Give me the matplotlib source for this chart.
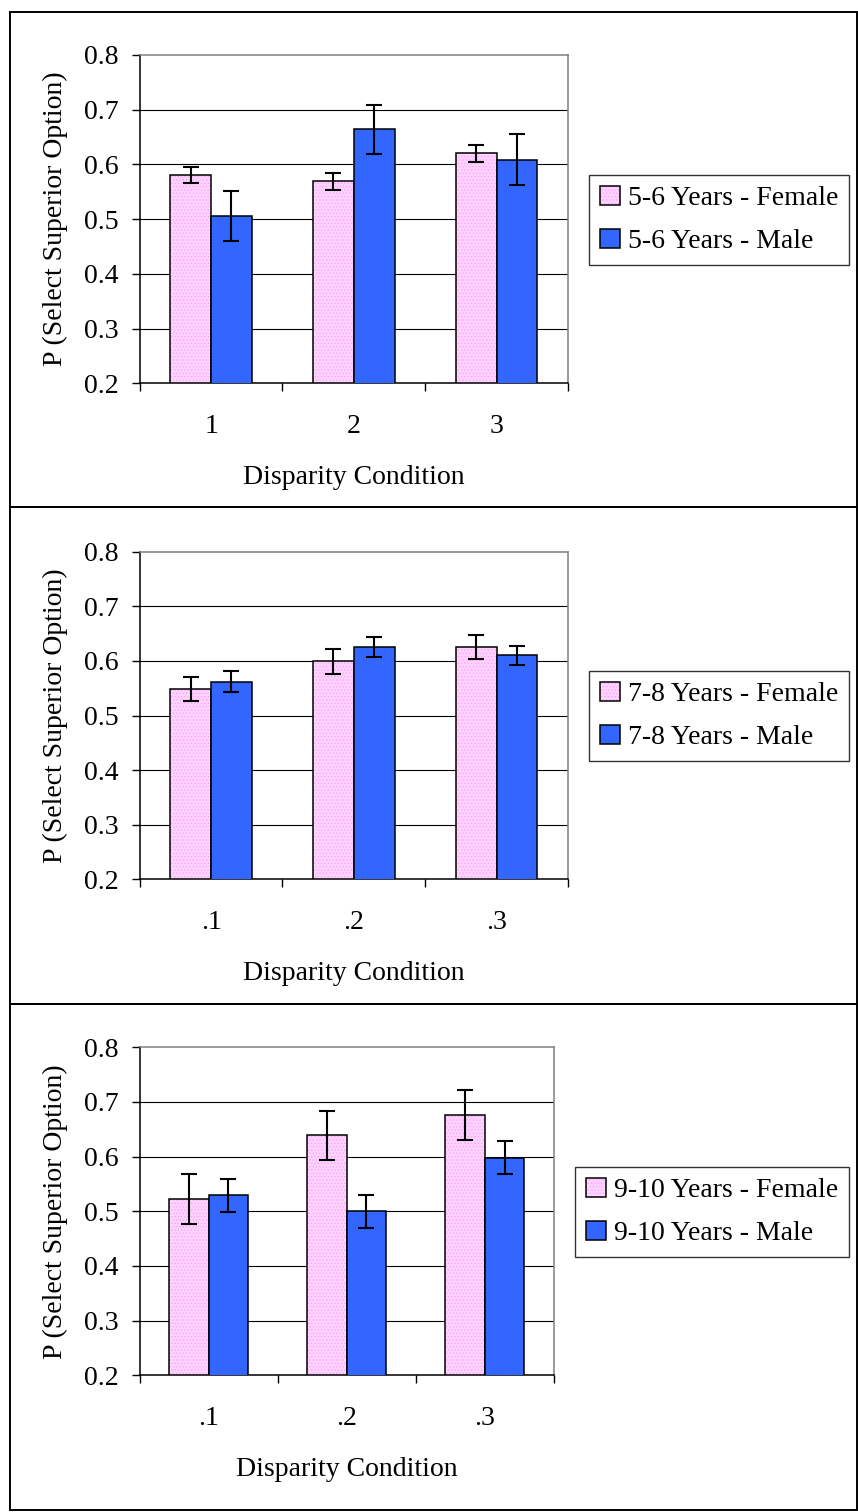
import matplotlib
matplotlib.use("Agg")
import matplotlib.pyplot as plt
import numpy as np
from matplotlib.patches import Patch, Rectangle

plt.rcParams['font.family'] = ['Liberation Serif', 'DejaVu Serif']
plt.rcParams['hatch.linewidth'] = 0.6

# ---- data ----
cats_top = ['1', '2', '3']
cats = ['.1', '.2', '.3']
yticks = [0.2, 0.3, 0.4, 0.5, 0.6, 0.7, 0.8]

female_56 = [0.581, 0.569, 0.620]
female_56_err = [0.015, 0.015, 0.015]
male_56 = [0.506, 0.664, 0.609]
male_56_err = [0.046, 0.045, 0.046]

female_78 = [0.548, 0.599, 0.625]
female_78_err = [0.022, 0.023, 0.022]
male_78 = [0.562, 0.625, 0.610]
male_78_err = [0.019, 0.018, 0.018]

female_910 = [0.522, 0.639, 0.676]
female_910_err = [0.046, 0.045, 0.046]
male_910 = [0.529, 0.500, 0.598]
male_910_err = [0.030, 0.030, 0.030]

groups = ['5-6 Years', '7-8 Years', '9-10 Years']

PINK = '#FFD2FF'
PINK_DOT = '#F7A8F7'
BLUE = '#3366FF'

W, H = 858, 1512
fig = plt.figure(figsize=(W / 100, H / 100), dpi=100)

def px_axes(left, top, right, bottom):
    return fig.add_axes([left / W, 1 - bottom / H, (right - left) / W, (bottom - top) / H])

def draw_panel(ax, labels, fem, fem_err, mal, mal_err, group, legend_xy):
    x = np.arange(len(labels))
    w = 1 / 3.5
    # pink bars: dotted fill, then black outline on top
    ax.bar(x - w / 2, fem, w, color=PINK, edgecolor=PINK_DOT,
           hatch='.....', linewidth=0, zorder=2)
    ax.bar(x - w / 2, fem, w, fill=False, edgecolor='black', linewidth=1.1, zorder=3)
    ax.bar(x + w / 2, mal, w, color=BLUE, edgecolor='black', linewidth=1.1, zorder=3)
    ax.errorbar(x - w / 2, fem, yerr=fem_err, fmt='none', ecolor='black',
                elinewidth=1.5, capsize=6, capthick=1.5, zorder=4)
    ax.errorbar(x + w / 2, mal, yerr=mal_err, fmt='none', ecolor='black',
                elinewidth=1.5, capsize=6, capthick=1.5, zorder=4)

    ax.set_ylim(0.2, 0.8)
    ax.set_xlim(-0.5, len(labels) - 0.5)
    for yv in yticks[1:-1]:
        ax.axhline(yv, color='black', linewidth=0.8, zorder=1)

    ax.set_yticks(yticks)
    ax.set_yticklabels([f'{v:.1f}' for v in yticks])
    ax.set_xticks(np.arange(len(labels) + 1) - 0.5)
    ax.set_xticklabels([])
    ax.set_xticks(x, minor=True)
    ax.set_xticklabels(labels, minor=True)
    ax.tick_params(axis='y', direction='out', length=6, width=1, pad=9, labelsize=20)
    ax.tick_params(axis='x', which='major', direction='out', length=6, width=1)
    ax.tick_params(axis='x', which='minor', length=0, pad=22, labelsize=20)

    for s in ['left', 'bottom']:
        ax.spines[s].set_color('black')
        ax.spines[s].set_linewidth(1.1)
    for s in ['top', 'right']:
        ax.spines[s].set_color('#808080')
        ax.spines[s].set_linewidth(1.1)

    ax.set_xlabel('Disparity Condition', fontsize=20, labelpad=19)
    ax.set_ylabel('P (Select Superior Option)', fontsize=20, labelpad=12)

    h_f = (Patch(facecolor=PINK, edgecolor=PINK_DOT, hatch='.....', linewidth=0),
           Patch(fill=False, edgecolor='black', linewidth=1.1))
    h_m = Patch(facecolor=BLUE, edgecolor='black', linewidth=1.1)
    leg = ax.legend([h_f, h_m], [f'{group} - Female', f'{group} - Male'],
                    loc='center left', bbox_to_anchor=(legend_xy[0] / W, 1 - legend_xy[1] / H),
                    bbox_transform=fig.transFigure, fontsize=20, frameon=True,
                    fancybox=False, shadow=False, borderaxespad=0, borderpad=0.4,
                    handlelength=0.7, handleheight=0.7, handletextpad=0.3,
                    labelspacing=0.62)
    leg.get_frame().set_edgecolor('black')
    leg.get_frame().set_linewidth(1.0)

ax1 = px_axes(139.7, 55, 567.9, 383.3)
draw_panel(ax1, cats_top, female_56, female_56_err, male_56, male_56_err, groups[0], (589, 220))

ax2 = px_axes(139.7, 551.7, 567.9, 879.3)
draw_panel(ax2, cats, female_78, female_78_err, male_78, male_78_err, groups[1], (589, 716))

ax3 = px_axes(139.7, 1047.3, 553.8, 1375.3)
draw_panel(ax3, cats, female_910, female_910_err, male_910, male_910_err, groups[2], (575, 1212))

# panel frames
for top, bottom in [(12, 507), (507, 1004), (1004, 1510)]:
    fig.patches.append(Rectangle((9.5 / W, 1 - bottom / H), (856.5 - 9.5) / W, (bottom - top) / H,
                                 transform=fig.transFigure, fill=False,
                                 edgecolor='black', linewidth=1.4))

fig.savefig('out.png', dpi=100)
